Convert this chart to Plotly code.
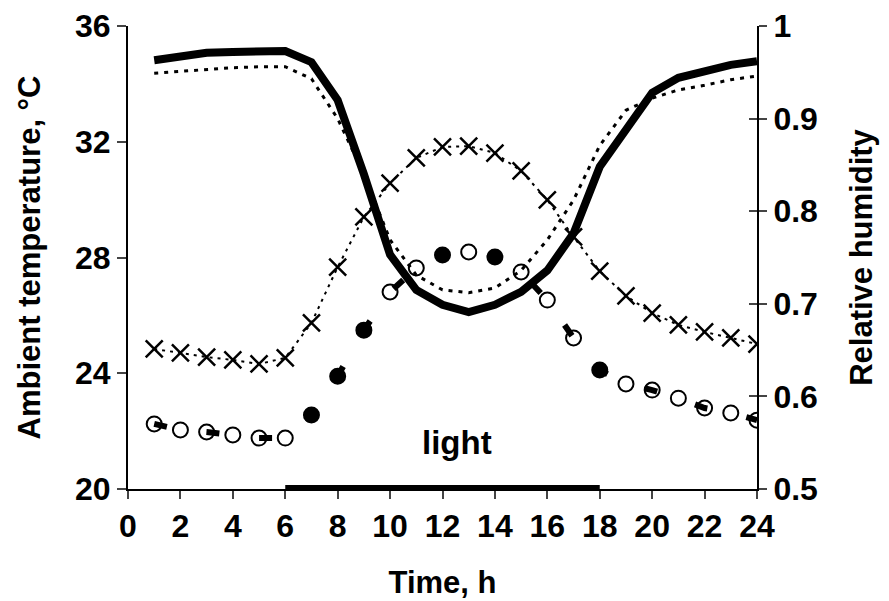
import plotly.graph_objects as go

hours = list(range(1, 25))

# Relative humidity (right axis)
rh_solid = [0.963, 0.968, 0.971, 0.972, 0.972, 0.973, 0.961, 0.920, 0.840, 0.753, 0.715, 0.699,
            0.691, 0.699, 0.713, 0.736, 0.776, 0.848, 0.888, 0.928, 0.944, 0.952, 0.958, 0.962]
rh_dotted = [0.949, 0.951, 0.953, 0.955, 0.956, 0.956, 0.943, 0.900, 0.840, 0.769, 0.731, 0.715,
             0.712, 0.717, 0.736, 0.769, 0.812, 0.871, 0.909, 0.922, 0.931, 0.936, 0.942, 0.946]

# Ambient temperature (left axis)
temp_cross = [24.84, 24.70, 24.56, 24.46, 24.32, 24.53, 25.74, 27.67, 29.40, 30.57, 31.44, 31.82,
              31.85, 31.61, 30.99, 29.99, 28.71, 27.53, 26.67, 26.08, 25.67, 25.43, 25.22, 25.01]
temp_circle = [22.25, 22.04, 21.97, 21.87, 21.76, 21.76, 22.56, 23.90, 25.49, 26.81, 27.64, 28.09,
               28.19, 28.02, 27.50, 26.53, 25.22, 24.11, 23.63, 23.42, 23.14, 22.80, 22.63, 22.38]

light_period = [6, 18]
light_level = [20, 20]
light_label = "light"

x_ticks = list(range(0, 25, 2))
t_ticks = [20, 24, 28, 32, 36]
rh_ticks = [0.5, 0.6, 0.7, 0.8, 0.9, 1.0]
rh_labels = ["0.5", "0.6", "0.7", "0.8", "0.9", "1"]

# circles that appear blotted by the overlying dash in the original
dark_hours = {7, 8, 9, 12, 14, 18}
circle_fill = ["black" if h in dark_hours else "white" for h in hours]

FONT = "Liberation Sans, Arial, sans-serif"
fig = go.Figure()

# crosses with thin dashed line
fig.add_trace(go.Scatter(x=hours, y=temp_cross, mode="lines+markers",
                         line=dict(color="black", width=2, dash="3px,5px"),
                         marker=dict(symbol="x-thin", size=17, line=dict(color="black", width=2.5)),
                         yaxis="y", showlegend=False))
# open circles
fig.add_trace(go.Scatter(x=hours, y=temp_circle, mode="markers",
                         marker=dict(symbol="circle", size=15, color=circle_fill,
                                     line=dict(color="black", width=2)),
                         yaxis="y", showlegend=False))
# thick dashed line on top of circles
fig.add_trace(go.Scatter(x=hours, y=temp_circle, mode="lines",
                         line=dict(color="black", width=6, dash="13px,40px"),
                         yaxis="y", showlegend=False))
# RH dotted
fig.add_trace(go.Scatter(x=hours, y=rh_dotted, mode="lines",
                         line=dict(color="black", width=3, dash="4px,6px"),
                         yaxis="y2", showlegend=False))
# RH solid thick
fig.add_trace(go.Scatter(x=hours, y=rh_solid, mode="lines",
                         line=dict(color="black", width=8),
                         yaxis="y2", showlegend=False))
# light bar
fig.add_trace(go.Scatter(x=light_period, y=light_level, mode="lines",
                         line=dict(color="black", width=8), cliponaxis=False,
                         yaxis="y", showlegend=False))

fig.add_annotation(x=12.55, y=21.6, xref="x", yref="y", text=light_label, showarrow=False,
                   xanchor="center", yanchor="middle",
                   font=dict(family=FONT, size=33, color="black", weight="bold"))

tickfont = dict(family=FONT, size=32, color="black", weight="bold")
titlefont = dict(family=FONT, size=31, color="black", weight="bold")

fig.update_layout(
    width=889, height=601,
    margin=dict(l=120, r=140, t=18, b=120),
    paper_bgcolor="white", plot_bgcolor="white",
    xaxis=dict(range=[0, 24], tickvals=x_ticks, ticks="outside", ticklen=8, tickwidth=2,
               showline=True, linecolor="black", linewidth=2, showgrid=False, zeroline=False,
               automargin=False,
               tickfont=tickfont, title=dict(text="Time, h", font=titlefont, standoff=28)),
    yaxis=dict(range=[20, 36], tickvals=t_ticks, ticks="outside", ticklen=9, tickwidth=2,
               showline=True, linecolor="black", linewidth=2, showgrid=False, zeroline=False,
               automargin=False,
               tickfont=tickfont, title=dict(text="Ambient temperature, °C", font=titlefont, standoff=25)),
    yaxis2=dict(range=[0.5, 1.0], tickvals=rh_ticks, ticktext=rh_labels, overlaying="y", side="right",
                anchor="x", ticks="outside", ticklen=8, tickwidth=2, automargin=False,
                showline=True, linecolor="black", linewidth=2, showgrid=False, zeroline=False,
                tickfont=tickfont, title=dict(text="Relative humidity", font=titlefont, standoff=33)),
    yaxis3=dict(range=[0.5, 1.0], tickvals=rh_ticks, overlaying="y", side="right", anchor="x",
                ticks="inside", ticklen=8, tickwidth=2, showticklabels=False, automargin=False,
                showline=False, showgrid=False, zeroline=False),
)
fig.add_trace(go.Scatter(x=[None], y=[None], yaxis="y3", showlegend=False))

fig.write_html("out.html")
